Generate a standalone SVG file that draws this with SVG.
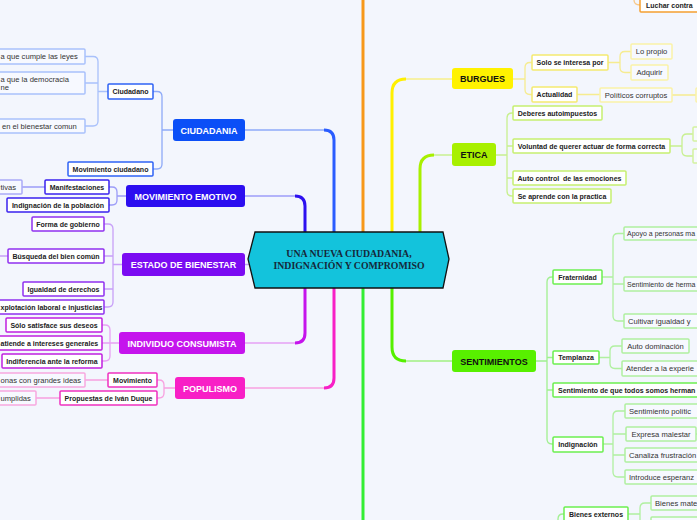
<svg xmlns="http://www.w3.org/2000/svg" width="697" height="520" viewBox="0 0 697 520">
<style>
text{font-family:"Liberation Sans",Arial,sans-serif}
.m{font-size:9px;font-weight:700;fill:#fff;text-anchor:middle}
.mk{font-size:9px;font-weight:700;fill:#111;text-anchor:middle}
.b{font-size:7px;font-weight:700;fill:#222;text-anchor:middle}
.bs{font-size:7px;font-weight:700;fill:#222}
.r{font-size:7.6px;fill:#333;text-anchor:middle}
.rs{font-size:7.6px;fill:#333}
.rn{font-size:7px;fill:#333}
.sb{fill:#fff;stroke-width:1.5}
.sl{fill:#f7f9ff;stroke-width:1.5}
.c{fill:none;stroke-width:1.3}
.t{fill:none;stroke-width:3}
.h{fill:none;stroke-width:1.5}
.ctr{font-family:"Liberation Serif","DejaVu Serif",serif;font-size:9.8px;font-weight:700;fill:#16283a;text-anchor:middle}
</style>
<rect width="697" height="520" fill="#f3f6fd"/>

<g id="connectors">
  <path class="h" stroke="#8eaaf8" d="M245,130 H324"/>
  <path class="t" stroke="#2a5cff" stroke-width="2.5" d="M324,130 Q334,130 334,140 V240"/>
  <path class="h" stroke="#9c9cf8" d="M245,196 H295"/>
  <path class="t" stroke="#2d10f0" stroke-width="2.5" d="M295,196 Q305,196 305,206 V240"/>
  <path class="h" stroke="#c0a0f8" d="M245,264.5 H252"/>
  <path class="h" stroke="#e6a0f5" d="M245,343 H295"/>
  <path class="t" stroke="#c514ec" stroke-width="2.5" d="M295,343 Q305,343 305,333 V280"/>
  <path class="h" stroke="#f8a0e0" d="M245,388 H324"/>
  <path class="t" stroke="#f81fc6" stroke-width="2.5" d="M324,388 Q334,388 334,378 V280"/>
  <path class="t" stroke="#f7981a" d="M363,240 V-2"/>
  <path class="t" stroke="#fff000" d="M392,240 V93 Q392,79 406,79"/>
  <path class="h" stroke="#f7ef8a" d="M406,79 H452"/>
  <path class="t" stroke="#a8f000" d="M420,240 V169 Q420,155 434,155"/>
  <path class="h" stroke="#c8f090" d="M434,155 H452"/>
  <path class="t" stroke="#55f000" d="M392,280 V347 Q392,361 406,361"/>
  <path class="h" stroke="#a0f080" d="M406,361 H452"/>
  <path class="t" stroke="#33ee33" d="M363,280 V522"/>

  <path class="c" stroke="#8eaaf8" d="M153,91.5 H157 Q162,91.5 162,96.5 V164 Q162,169 157,169 H153 M162,130 H173"/>
  <path class="c" stroke="#a9c1fb" d="M85,56.5 H93 Q98,56.5 98,61.5 V121 Q98,126 93,126 H85 M85,83 H98 M98,91.5 H108"/>
  <path class="c" stroke="#9c9cf8" d="M109,187 H112 Q117,187 117,192 V200 Q117,205 112,205 H109 M117,196 H126 M22,187 H45"/>
  <path class="c" stroke="#c8a0f8" d="M104,224 H108 Q113,224 113,229 V302 Q113,307 108,307 H104 M104,256 H113 M104,289 H113 M113,264.5 H122 M0,256 H8"/>
  <path class="c" stroke="#e8a0f4" d="M102,325 H105 Q110,325 110,330 V356 Q110,361 105,361 H102 M102,343 H119"/>
  <path class="c" stroke="#f8a0e0" d="M157,380 H159 Q164,380 164,385 V393 Q164,398 159,398 H157 M164,388 H175 M85,380 H108 M36,398 H60"/>
  <path class="c" stroke="#f8c888" d="M634,-3 V0 Q634,5 640,5"/>
  <path class="c" stroke="#f6ec90" d="M513,79 H525 M532,62.5 H530 Q525,62.5 525,67.5 V89.5 Q525,94.5 530,94.5 H532 M608,62.5 H620 M631,51.5 H625 Q620,51.5 620,56.5 V67.5 Q620,72.5 625,72.5 H631 M577,94.5 H600 M672,95 H696"/>
  <path class="c" stroke="#c8f090" d="M496,155 H507 M513,113 H512 Q507,113 507,118 V191 Q507,196 512,196 H513 M507,146 H513 M507,178 H513 M670,146 H682 M693,134 H687 Q682,134 682,139 V151 Q682,156 687,156 H693"/>
  <path class="c" stroke="#a0f090" d="M536,361 H547 M553,277 H552 Q547,277 547,282 V439 Q547,444 552,444 H553 M547,357.5 H553 M547,390 H553"/>
  <path class="c" stroke="#b0f0a0" d="M602,277 H613 M624,233.5 H618 Q613,233.5 613,238.5 V316 Q613,321 618,321 H624 M613,284 H624"/>
  <path class="c" stroke="#b0f0a0" d="M599,357.5 H610 M622,346 H615 Q610,346 610,351 V363.5 Q610,368.5 615,368.5 H622"/>
  <path class="c" stroke="#b0f0a0" d="M603,444 H613 M625,411 H618 Q613,411 613,416 V472 Q613,477 618,477 H625 M613,434 H626 M613,455 H625 M696,434 H698"/>
  <path class="c" stroke="#a0f090" d="M558,525 V519 Q558,514 563,514 H564"/>
  <path class="c" stroke="#b0f0a0" d="M628,514 H640 M651,503 H645 Q640,503 640,508 V525"/>
</g>

<g id="center">
  <polygon points="248,259 255,232 443,232 449,259 443,288 255,288" fill="#13c3dc" stroke="#111" stroke-width="1.3"/>
  <text class="ctr" x="349" y="256.5">UNA NUEVA CIUDADANIA,</text>
  <text class="ctr" x="349" y="269">INDIGNACIÓN Y COMPROMISO</text>
</g>

<g id="ciudadania">
  <rect x="173" y="119" width="72" height="22" rx="3" fill="#0b4ff7"/>
  <text class="m" x="209" y="133.5">CIUDADANIA</text>
</g>
<g id="ciudadano">
  <rect class="sb" x="108" y="84" width="45" height="15" rx="1" stroke="#2f63f5"/>
  <text class="b" x="130.5" y="94">Ciudadano</text>
</g>
<g id="movimiento-ciudadano">
  <rect class="sb" x="68" y="162" width="85" height="14" rx="1" stroke="#2f63f5"/>
  <text class="b" x="110.5" y="171.5">Movimiento ciudadano</text>
</g>
<g id="leyes">
  <rect class="sl" x="-5" y="49" width="90" height="15" rx="1" stroke="#a9c1fb"/>
  <text class="rs" x="0.5" y="59">a que cumple las leyes</text>
</g>
<g id="democracia">
  <rect class="sl" x="-5" y="72" width="90" height="22" rx="1" stroke="#a9c1fb"/>
  <text class="rs" x="0.5" y="81.5">a que la democracia</text>
  <text class="rs" x="0.5" y="90">ne</text>
</g>
<g id="bienestar-comun">
  <rect class="sl" x="-5" y="119" width="90" height="14" rx="1" stroke="#a9c1fb"/>
  <text class="rs" x="2" y="129">en el bienestar comun</text>
</g>

<g id="movimiento-emotivo">
  <rect x="126" y="185" width="119" height="22" rx="3" fill="#2c0ef0"/>
  <text class="m" x="185.5" y="199.5">MOVIMIENTO EMOTIVO</text>
</g>
<g id="manifestaciones">
  <rect class="sb" x="45" y="180" width="64" height="14" rx="1" stroke="#3a22ee"/>
  <text class="b" x="77" y="189.8">Manifestaciones</text>
</g>
<g id="indignacion-poblacion">
  <rect class="sb" x="7" y="198" width="102" height="14" rx="1" stroke="#3a22ee"/>
  <text class="b" x="58" y="207.8">Indignación de la población</text>
</g>
<g id="tivas">
  <rect class="sl" x="-5" y="180" width="27" height="14" rx="1" stroke="#aaaaf8"/>
  <text class="rs" x="0.5" y="189.8">tivas</text>
</g>

<g id="estado-bienestar">
  <rect x="122" y="253" width="123" height="23" rx="3" fill="#7b0bf2"/>
  <text class="m" x="183.5" y="268">ESTADO DE BIENESTAR</text>
</g>
<g id="forma-gobierno">
  <rect class="sb" x="32" y="217" width="72" height="14" rx="1" stroke="#9030f0"/>
  <text class="b" x="68" y="226.8">Forma de gobierno</text>
</g>
<g id="bien-comun">
  <rect class="sb" x="8" y="249" width="96" height="14" rx="1" stroke="#9030f0"/>
  <text class="b" x="56" y="258.8">Búsqueda del bien común</text>
</g>
<g id="igualdad">
  <rect class="sb" x="23" y="282" width="81" height="14" rx="1" stroke="#9030f0"/>
  <text class="b" x="63.5" y="291.8">Igualdad de derechos</text>
</g>
<g id="explotacion">
  <rect class="sb" x="-5" y="300" width="109" height="14" rx="1" stroke="#9030f0"/>
  <text class="bs" x="0.5" y="309.8">xplotación laboral e injusticias</text>
</g>

<g id="individuo-consumista">
  <rect x="119" y="332" width="126" height="22" rx="3" fill="#c514ed"/>
  <text class="m" x="182" y="346.5">INDIVIDUO CONSUMISTA</text>
</g>
<g id="satisface">
  <rect class="sb" x="6" y="318" width="96" height="14" rx="1" stroke="#c020e0"/>
  <text class="b" x="54" y="327.8">Sólo satisface sus deseos</text>
</g>
<g id="intereses">
  <rect class="sb" x="-5" y="336" width="107" height="14" rx="1" stroke="#c020e0"/>
  <text class="bs" x="0.5" y="345.8">atiende a intereses generales</text>
</g>
<g id="indiferencia">
  <rect class="sb" x="2" y="354" width="100" height="14" rx="1" stroke="#c020e0"/>
  <text class="b" x="52" y="363.8">Indiferencia ante la reforma</text>
</g>

<g id="populismo">
  <rect x="175" y="377" width="70" height="22" rx="3" fill="#f81fc6"/>
  <text class="m" x="210" y="391.5">POPULISMO</text>
</g>
<g id="movimiento">
  <rect class="sb" x="108" y="373" width="49" height="14" rx="1" stroke="#f030c0"/>
  <text class="b" x="132.5" y="382.8">Movimiento</text>
</g>
<g id="propuestas">
  <rect class="sb" x="60" y="391" width="97" height="14" rx="1" stroke="#f030c0"/>
  <text class="b" x="108.5" y="400.8">Propuestas de Iván Duque</text>
</g>
<g id="grandes-ideas">
  <rect class="sl" x="-5" y="373" width="90" height="14" rx="1" stroke="#f8a8e0"/>
  <text class="rs" x="0.5" y="382.8">onas con grandes ideas</text>
</g>
<g id="incumplidas">
  <rect class="sl" x="-5" y="391" width="41" height="14" rx="1" stroke="#f8a8e0"/>
  <text class="rs" x="0.5" y="400.8">umplidas</text>
</g>

<g id="luchar-contra">
  <rect class="sb" x="640" y="-2" width="60" height="14" rx="1" stroke="#f5a030"/>
  <text class="bs" x="646" y="7.5">Luchar contra</text>
</g>

<g id="burgues">
  <rect x="452" y="68" width="61" height="21" rx="3" fill="#fff200"/>
  <text class="mk" x="482.5" y="82">BURGUES</text>
</g>
<g id="solo-interesa">
  <rect class="sb" x="532" y="55" width="76" height="15" rx="1" stroke="#f5ea70"/>
  <text class="b" x="570" y="65.3">Solo se interesa por</text>
</g>
<g id="actualidad">
  <rect class="sb" x="532" y="87" width="45" height="15" rx="1" stroke="#f5ea70"/>
  <text class="b" x="554.5" y="97.3">Actualidad</text>
</g>
<g id="lo-propio">
  <rect class="sl" x="631" y="44" width="41" height="15" rx="1" stroke="#faf2a8"/>
  <text class="r" x="651.5" y="54.3">Lo propio</text>
</g>
<g id="adquirir">
  <rect class="sl" x="631" y="65" width="37" height="15" rx="1" stroke="#faf2a8"/>
  <text class="r" x="649.5" y="75.3">Adquirir</text>
</g>
<g id="politicos">
  <rect class="sl" x="600" y="88" width="72" height="14" rx="1" stroke="#faf2a8"/>
  <text class="r" x="636" y="97.8">Políticos corruptos</text>
</g>
<g id="politicos-hijo">
  <rect class="sl" x="696" y="88" width="10" height="14" rx="1" stroke="#faf2a8"/>
</g>

<g id="etica">
  <rect x="452" y="143" width="44" height="23" rx="3" fill="#a8f000"/>
  <text class="mk" x="474" y="158">ETICA</text>
</g>
<g id="deberes">
  <rect class="sb" x="513" y="106" width="89" height="14" rx="1" stroke="#c6f070"/>
  <text class="b" x="557.5" y="115.8">Deberes autoimpuestos</text>
</g>
<g id="voluntad">
  <rect class="sb" x="513" y="139" width="157" height="14" rx="1" stroke="#c6f070"/>
  <text class="b" x="591.5" y="148.8">Voluntad de querer actuar de forma correcta</text>
</g>
<g id="auto-control">
  <rect class="sb" x="513" y="171" width="113" height="14" rx="1" stroke="#c6f070"/>
  <text class="b" x="569.5" y="180.8" xml:space="preserve">Auto control  de las emociones</text>
</g>
<g id="aprende">
  <rect class="sb" x="513" y="189" width="98" height="14" rx="1" stroke="#c6f070"/>
  <text class="b" x="562" y="198.8">Se aprende con la practica</text>
</g>
<g id="voluntad-hijo1">
  <rect class="sl" x="693" y="127" width="10" height="14" rx="1" stroke="#d4f2a0"/>
</g>
<g id="voluntad-hijo2">
  <rect class="sl" x="693" y="149" width="10" height="14" rx="1" stroke="#d4f2a0"/>
</g>

<g id="sentimientos">
  <rect x="452" y="350" width="84" height="22" rx="3" fill="#58f000"/>
  <text class="mk" x="494" y="364.5">SENTIMIENTOS</text>
</g>
<g id="fraternidad">
  <rect class="sb" x="553" y="270" width="49" height="14" rx="1" stroke="#6cf050"/>
  <text class="b" x="577.5" y="279.8">Fraternidad</text>
</g>
<g id="templanza">
  <rect class="sb" x="553" y="351" width="46" height="13" rx="1" stroke="#6cf050"/>
  <text class="b" x="576" y="360.3">Templanza</text>
</g>
<g id="hermanos">
  <rect class="sb" x="553" y="383" width="150" height="14" rx="1" stroke="#6cf050"/>
  <text class="bs" x="558" y="392.8">Sentimiento de que todos somos herman</text>
</g>
<g id="indignacion">
  <rect class="sb" x="553" y="437" width="50" height="15" rx="1" stroke="#6cf050"/>
  <text class="b" x="578" y="447.3">Indignación</text>
</g>
<g id="apoyo">
  <rect class="sl" x="624" y="227" width="80" height="13" rx="1" stroke="#b0f0a0"/>
  <text class="rn" x="627" y="236.3">Apoyo a personas ma</text>
</g>
<g id="hermandad">
  <rect class="sl" x="624" y="277" width="80" height="14" rx="1" stroke="#b0f0a0"/>
  <text class="rn" x="627" y="286.8">Sentimiento de herma</text>
</g>
<g id="cultivar">
  <rect class="sl" x="624" y="314" width="80" height="14" rx="1" stroke="#b0f0a0"/>
  <text class="rs" x="628" y="323.8">Cultivar igualdad y</text>
</g>
<g id="auto-dominacion">
  <rect class="sl" x="622" y="339" width="67" height="14" rx="1" stroke="#b0f0a0"/>
  <text class="r" x="655.5" y="348.8">Auto dominación</text>
</g>
<g id="atender">
  <rect class="sl" x="622" y="361" width="80" height="15" rx="1" stroke="#b0f0a0"/>
  <text class="rs" x="626" y="371.3">Atender a la experie</text>
</g>
<g id="sent-politico">
  <rect class="sl" x="625" y="404" width="80" height="14" rx="1" stroke="#b0f0a0"/>
  <text class="rs" x="629" y="413.8">Sentimiento polític</text>
</g>
<g id="malestar">
  <rect class="sl" x="626" y="427" width="70" height="14" rx="1" stroke="#b0f0a0"/>
  <text class="r" x="661" y="436.8">Expresa malestar</text>
</g>
<g id="canaliza">
  <rect class="sl" x="625" y="448" width="80" height="14" rx="1" stroke="#b0f0a0"/>
  <text class="rs" x="629" y="457.8">Canaliza frustración</text>
</g>
<g id="esperanza">
  <rect class="sl" x="625" y="470" width="80" height="14" rx="1" stroke="#b0f0a0"/>
  <text class="rs" x="629" y="479.8">Introduce esperanz</text>
</g>
<g id="bienes-externos">
  <rect class="sb" x="564" y="507" width="64" height="14" rx="1" stroke="#6cf050"/>
  <text class="b" x="596" y="516.8">Bienes externos</text>
</g>
<g id="bienes-mat">
  <rect class="sl" x="651" y="496" width="50" height="14" rx="1" stroke="#b0f0a0"/>
  <text class="rs" x="655" y="505.8">Bienes mate</text>
</g>
<g id="bienes-otro">
  <rect class="sl" x="651" y="517" width="50" height="10" rx="1" stroke="#b0f0a0"/>
</g>
</svg>
